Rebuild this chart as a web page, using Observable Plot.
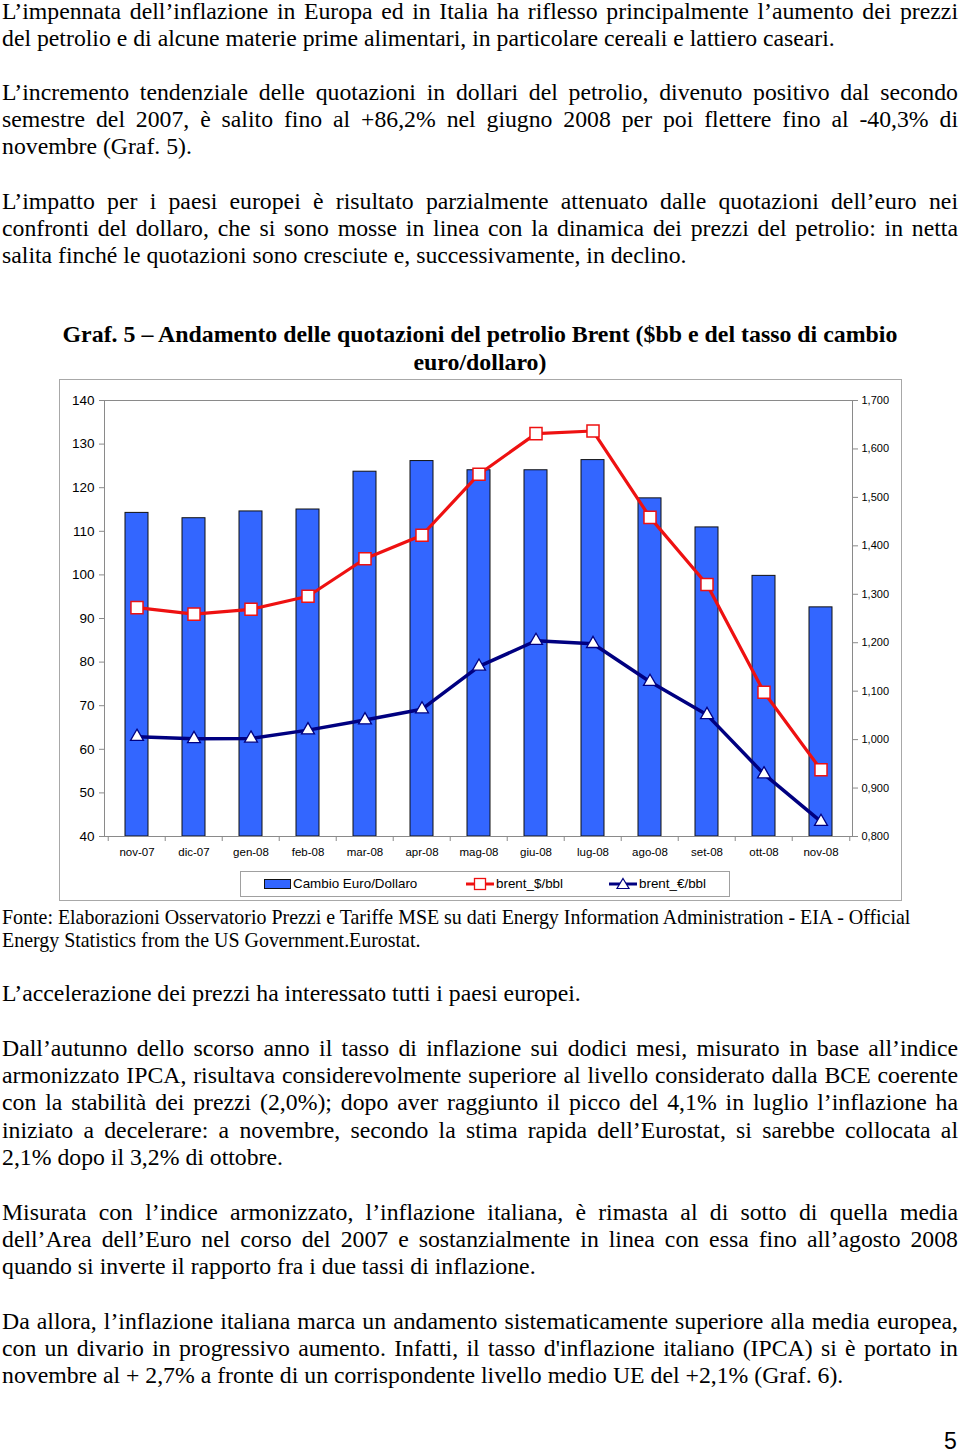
<!DOCTYPE html>
<html><head><meta charset="utf-8">
<script src="https://cdn.jsdelivr.net/npm/d3@7"></script>
<script src="https://cdn.jsdelivr.net/npm/@observablehq/plot@0.6"></script>
<style>
html,body{margin:0;padding:0;background:#fff;}
body{width:960px;height:1451px;position:relative;overflow:hidden;font-family:"Liberation Serif","Times New Roman",serif;color:#000;}
.ln{position:absolute;transform-origin:0 0;white-space:nowrap;font-family:"Liberation Serif","Times New Roman",serif;}
.jl{text-align:justify;text-align-last:justify;white-space:normal;}
#chartbox{position:absolute;left:59px;top:379px;width:843px;height:522px;border:1px solid #a8a8a8;box-sizing:border-box;}
#chartbox svg{position:absolute;left:0;top:0;}
#legend{position:absolute;left:180px;top:491px;width:490px;height:26px;border:1px solid #a0a0a0;box-sizing:border-box;font-family:"Liberation Sans",Arial,sans-serif;font-size:13.4px;}
.li{position:absolute;top:0;height:24px;line-height:24px;}
.li svg{position:absolute;top:0;}
#measure{position:absolute;visibility:hidden;white-space:nowrap;left:0;top:0;font-family:"Liberation Serif","Times New Roman",serif;}
</style></head><body>
<span id="measure"></span>
<div id="chartbox"><div id="legend"></div></div>
<script>
// ---------------- DATA ----------------
const months = ["nov-07","dic-07","gen-08","feb-08","mar-08","apr-08","mag-08","giu-08","lug-08","ago-08","set-08","ott-08","nov-08"];
const cambioEuroDollaro = [1.468,1.457,1.471,1.475,1.553,1.575,1.556,1.556,1.577,1.498,1.438,1.338,1.273];
const brentUsd = [92.5,91.0,92.1,95.1,103.7,109.1,123.1,132.4,133.0,113.2,97.8,73.1,55.3];
const brentEur = [62.9,62.4,62.5,64.4,66.7,69.2,79.0,84.9,84.2,75.5,67.9,54.3,43.4];
const leftTicks = [40,50,60,70,80,90,100,110,120,130,140];
const rightTicks = [0.8,0.9,1.0,1.1,1.2,1.3,1.4,1.5,1.6,1.7];
const seriesNames = ["Cambio Euro/Dollaro","brent_$/bbl","brent_€/bbl"];

const chartTitle = ["Graf. 5 – Andamento delle quotazioni del petrolio Brent ($bb e del tasso di cambio","euro/dollaro)"];
const sourceLines = ["Fonte: Elaborazioni Osservatorio Prezzi e Tariffe MSE su dati Energy Information Administration - EIA - Official","Energy Statistics from the US Government.Eurostat."];
const parasTop = [
  ["L’impennata dell’inflazione in Europa ed in Italia ha riflesso principalmente l’aumento dei prezzi",
   "del petrolio e di alcune materie prime alimentari, in particolare cereali e lattiero caseari."],
  ["L’incremento tendenziale delle quotazioni in dollari del petrolio, divenuto positivo dal secondo",
   "semestre del 2007, è salito fino al +86,2% nel giugno 2008 per poi flettere fino al -40,3% di",
   "novembre (Graf. 5)."],
  ["L’impatto per i paesi europei è risultato parzialmente attenuato dalle quotazioni dell’euro nei",
   "confronti del dollaro, che si sono mosse in linea con la dinamica dei prezzi del petrolio: in netta",
   "salita finché le quotazioni sono cresciute e, successivamente, in declino."]
];
const parasBottom = [
  ["L’accelerazione dei prezzi ha interessato tutti i paesi europei."],
  ["Dall’autunno dello scorso anno il tasso di inflazione sui dodici mesi, misurato in base all’indice",
   "armonizzato IPCA, risultava considerevolmente superiore al livello considerato dalla BCE coerente",
   "con la stabilità dei prezzi (2,0%); dopo aver raggiunto il picco del 4,1% in luglio l’inflazione ha",
   "iniziato a decelerare: a novembre, secondo la stima rapida dell’Eurostat, si sarebbe collocata al",
   "2,1% dopo il 3,2% di ottobre."],
  ["Misurata con l’indice armonizzato, l’inflazione italiana, è rimasta al di sotto di quella media",
   "dell’Area dell’Euro nel corso del 2007 e sostanzialmente in linea con essa fino all’agosto 2008",
   "quando si inverte il rapporto fra i due tassi di inflazione."],
  ["Da allora, l’inflazione italiana marca un andamento sistematicamente superiore alla media europea,",
   "con un divario in progressivo aumento. Infatti, il tasso d'inflazione italiano (IPCA) si è portato in",
   "novembre al + 2,7% a fronte di un corrispondente livello medio UE del +2,1% (Graf. 6)."]
];
const pageNumber = "5";

// ---------------- TEXT LAYOUT ----------------
const meas = document.getElementById("measure");
function natWidth(txt, size, weight) {
  meas.style.fontSize = size + "px";
  meas.style.fontWeight = weight || "normal";
  meas.textContent = txt;
  return meas.getBoundingClientRect().width;
}
const LEFT = 2, FULLW = 956, PITCH = 27.35;
const BODY_FS = 21 * 833 / natWidth(parasTop[0][1], 21);

// place a line by its baseline (Liberation metrics: ascent .891, descent .216)
function addLine(txt, {base, left = LEFT, fs, justify = false, center = false, weight = "normal", family}) {
  const lh = Math.round(fs * 0.9);
  const top = base - ((lh - 1.107 * fs) / 2 + 0.891 * fs);
  const d = document.createElement("div");
  d.className = "ln" + (justify ? " jl" : "");
  d.textContent = txt;
  if (family) d.style.fontFamily = family;
  d.style.fontSize = fs + "px";
  d.style.lineHeight = lh + "px";
  d.style.height = lh + "px";
  d.style.fontWeight = weight;
  d.style.top = top + "px";
  let s = 1;
  if (justify) {
    const w = natWidth(txt, fs, weight);
    s = Math.min(1, (FULLW - 0.5) / w);
    d.style.width = (FULLW / s) + "px";
  }
  if (center) {
    d.style.left = "0px";
    d.style.width = "960px";
    d.style.textAlign = "center";
  } else {
    d.style.left = left + "px";
  }
  if (s !== 1) d.style.transform = `scaleX(${s})`;
  document.body.appendChild(d);
}
function addParagraphs(paras, bases) {
  paras.forEach((p, pi) => {
    p.forEach((line, li) => {
      addLine(line, {base: bases[pi] + li * PITCH, fs: BODY_FS, justify: li < p.length - 1});
    });
  });
}
addParagraphs(parasTop, [19.3, 100.3, 209.3]);
addParagraphs(parasBottom, [1001.3, 1056.3, 1220.3, 1329.3]);

// chart title
const TITLE_FS = 21 * 835 / natWidth(chartTitle[0], 21, "bold");
chartTitle.forEach((t, i) => addLine(t, {base: 343 + i * 27.2, fs: TITLE_FS, center: true, weight: "bold"}));

// source
const SRC_FS = 18 * 909 / natWidth(sourceLines[0], 18);
sourceLines.forEach((t, i) => addLine(t, {base: 924 + i * 23, fs: SRC_FS}));

// page number
addLine(pageNumber, {base: 1449, left: 944, fs: 23, family: "'Liberation Sans', Arial, sans-serif"});

// ---------------- CHART ----------------
const toLeft = v => 40 + (v - 0.8) / 0.9 * 100;
const toRight = y => 0.8 + (y - 40) * 0.009;
const data = months.map((m, i) => ({month: m, cambio: cambioEuroDollaro[i], usd: brentUsd[i], eur: brentEur[i]}));

const W = 841, H = 486, ML = 44, MR = 49, MT = 20, MB = 30;
const step = (W - ML - MR) / months.length;
const axisGrey = "#8a8a8a";
const red = "#ee1111", navy = "#000080", barBlue = "#3366ff";

const chart = Plot.plot({
  width: W, height: H,
  marginLeft: ML, marginRight: MR, marginTop: MT, marginBottom: MB,
  style: {fontFamily: "'Liberation Sans', Arial, sans-serif", background: "transparent", overflow: "visible", color: "#000"},
  x: {domain: months, paddingInner: 0.6, paddingOuter: 0.3, label: null},
  y: {domain: [40, 140], label: null},
  marks: [
    Plot.barY(data, {x: "month", y1: 40, y2: d => toLeft(d.cambio), fill: barBlue, stroke: "#111", strokeWidth: 1}),
    Plot.frame({stroke: axisGrey}),
    Plot.axisY({ticks: leftTicks, anchor: "left", label: null, tickSize: 5, tickPadding: 5, fontSize: 13.5, stroke: axisGrey, fill: "#000"}),
    Plot.axisY({ticks: rightTicks.map(toLeft), anchor: "right", label: null, tickSize: 5, tickPadding: 4, fontSize: 11, stroke: axisGrey, fill: "#000",
      tickFormat: y => toRight(y).toFixed(3).replace(".", ",")}),
    Plot.axisX({anchor: "bottom", label: null, tickSize: 0, tickPadding: 11, fontSize: 11.5, fill: "#000"}),
    Plot.ruleX(months, {x: d => d, y1: 40, y2: 38.85, dx: -step / 2, stroke: axisGrey}),
    Plot.ruleX(months.slice(-1), {x: d => d, y1: 40, y2: 38.85, dx: step / 2, stroke: axisGrey}),
    Plot.line(data, {x: "month", y: "usd", stroke: red, strokeWidth: 3.2}),
    Plot.line(data, {x: "month", y: "eur", stroke: navy, strokeWidth: 3.5}),
    Plot.dot(data, {x: "month", y: "usd", symbol: "square", r: 6.8, fill: "#fff", stroke: red, strokeWidth: 1.5}),
    Plot.dot(data, {x: "month", y: "eur", symbol: "triangle", r: 4.8, fill: "#fff", stroke: navy, strokeWidth: 1.3})
  ]
});
const box = document.getElementById("chartbox");
box.insertBefore(chart, box.firstChild);

// ---------------- LEGEND ----------------
const legend = document.getElementById("legend");
const legendItems = [
  {name: seriesNames[0], kind: "bar", x: 22},
  {name: seriesNames[1], kind: "square", x: 225, color: red},
  {name: seriesNames[2], kind: "triangle", x: 368, color: navy}
];
legendItems.forEach(it => {
  const el = document.createElement("div");
  el.className = "li";
  el.style.left = it.x + "px";
  let sw;
  if (it.kind === "bar") {
    sw = `<svg width="30" height="24"><rect x="1.5" y="7.5" width="26" height="9" fill="${barBlue}" stroke="#111" stroke-width="1"/></svg>`;
  } else if (it.kind === "square") {
    sw = `<svg width="30" height="24"><line x1="0" x2="28" y1="12" y2="12" stroke="${it.color}" stroke-width="3"/><rect x="8.5" y="6.5" width="11" height="11" fill="#fff" stroke="${it.color}" stroke-width="1.3"/></svg>`;
  } else {
    sw = `<svg width="30" height="24"><line x1="0" x2="28" y1="12" y2="12" stroke="${it.color}" stroke-width="3"/><path d="M14,6.5 L20,16.5 L8,16.5 Z" fill="#fff" stroke="${it.color}" stroke-width="1.2"/></svg>`;
  }
  el.innerHTML = sw + `<span style="position:absolute;left:30px;white-space:nowrap">${it.name}</span>`;
  legend.appendChild(el);
});
</script>
</body></html>
